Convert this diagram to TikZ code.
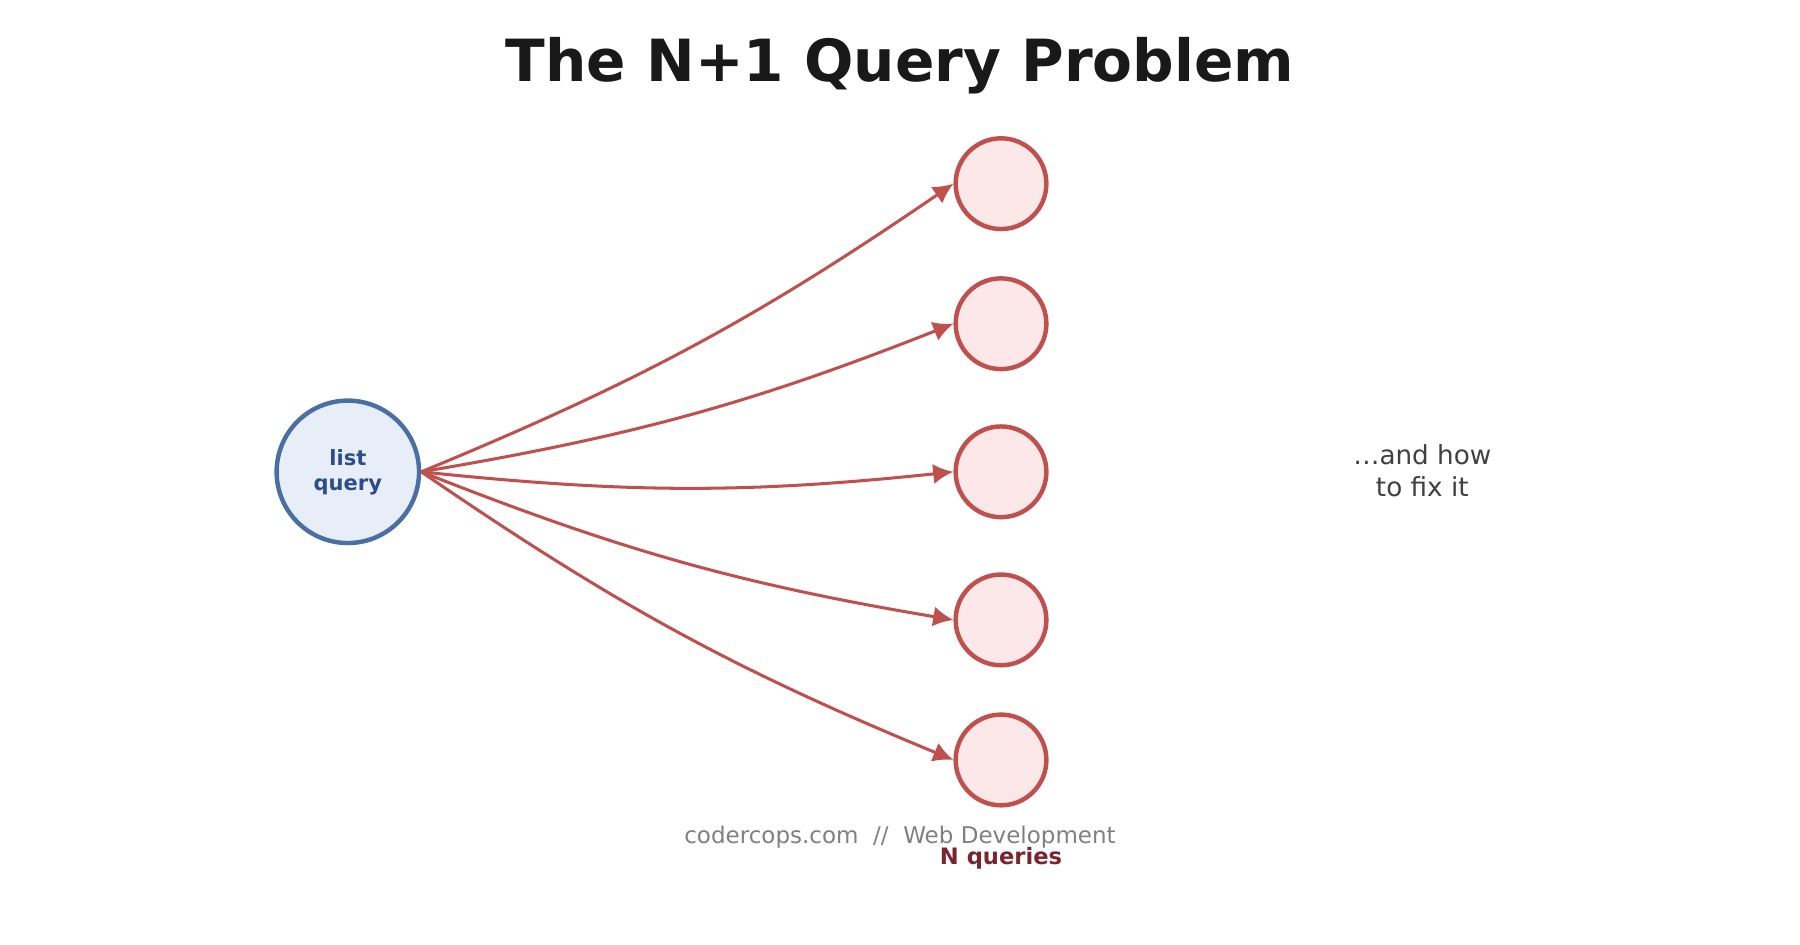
\documentclass[tikz,border=0pt]{standalone}
\usepackage{fontspec}
\setmainfont{DejaVu Sans}
\usetikzlibrary{arrows.meta}
\definecolor{listedge}{HTML}{4A6FA5}
\definecolor{listfill}{HTML}{E8EEF8}
\definecolor{listtext}{HTML}{2C4C8C}
\definecolor{qedge}{HTML}{C0504D}
\definecolor{qfill}{HTML}{FCE8E8}
\definecolor{qtext}{HTML}{7B2430}
\begin{document}
\begin{tikzpicture}[x=0.01cm,y=-0.01cm,
  listnode/.style={draw=listedge, fill=listfill, line width=1.1pt, circle, minimum size=1.24cm, inner sep=0pt},
  qnode/.style={draw=qedge, fill=qfill, line width=1.1pt, circle, minimum size=0.79cm, inner sep=0pt},
  qarrow/.style={draw=qedge, line width=0.75pt, -{Latex[length=5pt,width=5pt]}, bend right=6}]

\useasboundingbox (0,0) rectangle (1568,823);

% Title
\node[font=\fontsize{14.4}{16}\selectfont\bfseries, text=black!90] (title) at (784,57) {The N+1 Query Problem};

% List query
\node[listnode, font=\fontsize{5.2}{6.2}\selectfont\bfseries, text=listtext, align=center] (list) at (303,411) {list\\query};

% N queries
\foreach \i/\y in {1/160,2/282,3/411,4/540,5/662}{
  \node[qnode] (q\i) at (872,\y) {};
  \draw[qarrow] (list.east) to (q\i.west);
}

\node[font=\fontsize{5.6}{7}\selectfont\bfseries, text=qtext] (nlabel) at (872,748) {N queries};

% Side note
\node[font=\fontsize{6.5}{8}\selectfont, text=black!75, align=center] (fix) at (1239,410) {\ldots and how\\to fix it};

% Footer
\node[font=\fontsize{5.7}{7}\selectfont, text=black!50] (footer) at (784,729) {codercops.com \ //\ \ Web Development};

\end{tikzpicture}
\end{document}
